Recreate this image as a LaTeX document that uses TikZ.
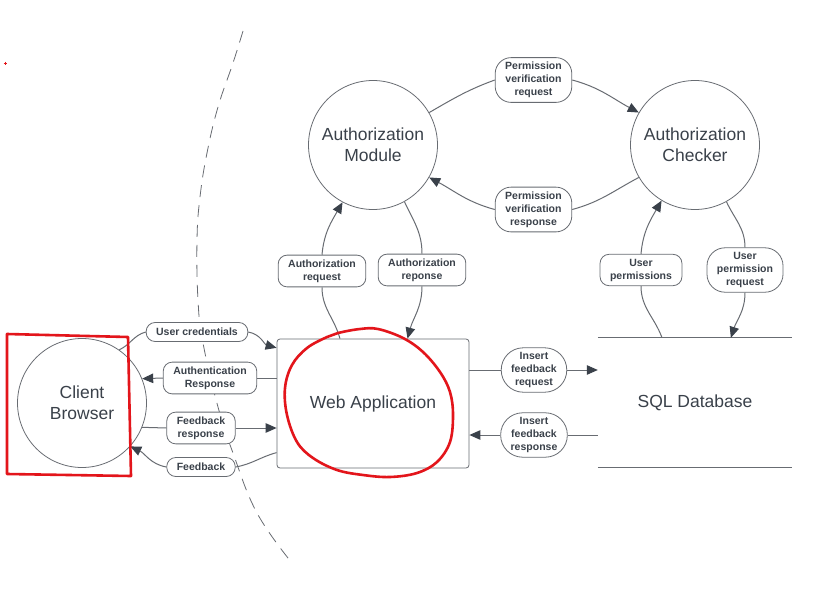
\documentclass[tikz,border=0pt]{standalone}
\usepackage{fontspec}
\setmainfont{Liberation Sans}
\usetikzlibrary{calc}
\usetikzlibrary{arrows.meta}
\usetikzlibrary{positioning}
\definecolor{lineGray}{HTML}{686C72}
\definecolor{textGray}{HTML}{3A414A}
\definecolor{penRed}{HTML}{E3151B}

\begin{document}
\begin{tikzpicture}[x=1pt, y=1pt,
  entity/.style={draw=lineGray, line width=0.8pt, circle, minimum size=129pt, inner sep=0pt, align=center, text=textGray, font=\fontsize{17.5}{21}\selectfont},
  process/.style={draw=lineGray, line width=0.8pt, rounded corners=3pt, minimum width=192pt, minimum height=129pt, text=textGray, font=\fontsize{17.5}{21}\selectfont},
  store/.style={minimum width=194pt, minimum height=129pt, text=textGray, font=\fontsize{17.5}{21}\selectfont},
  flowtag/.style={draw=lineGray, line width=0.8pt, fill=white, rounded corners=9pt, align=center, text=textGray, font=\fontsize{10.5}{13}\selectfont\bfseries, inner xsep=10pt, inner ysep=4.5pt, minimum height=19pt},
  roundtag/.style={flowtag, rounded corners=16pt},
  flow/.style={draw=lineGray, line width=1pt},
  arrowed/.style={flow, -{Triangle[length=11pt, width=9.5pt, color=textGray]}},
  redpen/.style={draw=penRed, line width=2.6pt, line join=round, line cap=round}
]
  % 画布与边距
  \fill[white] (0,0) rectangle (823,-597);
  \useasboundingbox (0,0) rectangle (823,-597);

  % 主要实体
  \node[entity] (client) at (82,-403) {Client\\Browser};% 客户端
  \node[process] (webapp) at (373,-403.5) {Web Application};% Web 应用
  \node[store] (sqldb) at (695,-402.5) {SQL Database};% 数据库
  \node[entity] (authmod) at (373,-145) {Authorization\\Module};% 授权模块
  \node[entity] (authchk) at (695,-145) {Authorization\\Checker};% 授权检查器
  % 数据库上下边线
  \draw[lineGray, line width=0.8pt] (sqldb.north west) -- (sqldb.north east);
  \draw[lineGray, line width=0.8pt] (sqldb.south west) -- (sqldb.south east);

  % 信任边界虚线
  \draw[lineGray, line width=0.8pt, dash pattern=on 12pt off 8pt] plot[smooth, tension=0.7] coordinates {(243,-31) (233,-63) (218,-107) (207,-153) (200,-197) (197,-240) (198,-300) (203,-343) (218,-407) (233,-453) (257,-513) (292,-563)};

  % 数据流标签
  \node[flowtag] (usercred) at (197,-332) {User credentials};
  \node[flowtag] (authresp) at (210,-378) {Authentication\\Response};
  \node[flowtag] (fbresp) at (201,-428) {Feedback\\response};
  \node[flowtag] (feedback) at (201,-467) {Feedback};
  \node[flowtag] (authreq) at (322,-271) {Authorization\\request};
  \node[flowtag] (authrep) at (422,-270) {Authorization\\reponse};
  \node[roundtag] (pvreq) at (533.5,-80) {Permission\\verification\\request};
  \node[roundtag] (pvresp) at (533.5,-209.5) {Permission\\verification\\response};
  \node[flowtag] (userperm) at (641,-270) {User\\permissions};
  \node[roundtag, rounded corners=18pt] (upreq) at (745,-270) {User\\permission\\request};
  \node[roundtag, rounded corners=22pt] (ifreq) at (534,-370) {Insert\\feedback\\request};
  \node[roundtag, rounded corners=22pt] (ifresp) at (534,-435) {Insert\\feedback\\response};

  % 客户端 <-> Web 应用
  \draw[flow] (client.55) to[out=25, in=195] (usercred.west);
  \draw[arrowed] (usercred.east) to[out=-10, in=165] (webapp.150);
  \draw[flow] (webapp.west |- authresp) -- (authresp.east);
  \draw[arrowed] (authresp.west) -- (client.22);
  \draw[flow] (client.-22) -- (fbresp.west);
  \draw[arrowed] (fbresp.east) -- (webapp.west |- fbresp);
  \draw[flow] (webapp.207) to[out=195, in=10] (feedback.east);
  \draw[arrowed] (feedback.west) to[out=170, in=-25] (client.-42);

  % Web 应用 <-> 授权模块
  \draw[flow] (webapp.117) to[out=105, in=-90] (authreq.south);
  \draw[arrowed] (authreq.north) to[out=85, in=240] (authmod.242);
  \draw[flow] (authmod.-61) to[out=-65, in=90] (authrep.north);
  \draw[arrowed] (authrep.south) to[out=-90, in=75] (webapp.62);

  % 授权模块 <-> 授权检查器
  \draw[flow] (authmod.30) to[out=30, in=200] (pvreq.west);
  \draw[arrowed] (pvreq.east) to[out=-15, in=152] (authchk.150);
  \draw[flow] (authchk.210) to[out=208, in=15] (pvresp.east);
  \draw[arrowed] (pvresp.west) to[out=165, in=-28] (authmod.-30);

  % 授权检查器 <-> 数据库
  \draw[flow] (sqldb.117) to[out=110, in=-90] (userperm.south);
  \draw[arrowed] (userperm.north) to[out=85, in=240] (authchk.239);
  \draw[flow] (authchk.-61) to[out=-65, in=90] (upreq.north);
  \draw[arrowed] (upreq.south) to[out=-90, in=72] (sqldb.61);

  % Web 应用 <-> 数据库
  \draw[flow] (webapp.east |- ifreq) -- (ifreq.west);
  \draw[arrowed] (ifreq.east) -- (sqldb.west |- ifreq);
  \draw[flow] (sqldb.west |- ifresp) -- (ifresp.east);
  \draw[arrowed] (ifresp.west) -- (webapp.east |- ifresp);

  % 红色手绘标注
  \draw[redpen] (7,-334) -- (128,-337) -- (131,-476) -- (7,-474) -- cycle;
  \draw[redpen] plot[smooth cycle, tension=0.6] coordinates {(338,-333) (360,-329) (378,-329) (403,-338) (423,-352) (440,-372) (450,-392) (453,-415) (450,-442) (437,-462) (417,-473) (390,-477) (363,-475) (337,-470) (313,-458) (297,-442) (287,-415) (285,-388) (292,-365) (307,-348) (327,-337)};
  \draw[penRed, line width=0.6pt] (3.5,-63) -- (6.5,-63) (5,-61.5) -- (5,-64.5);
\end{tikzpicture}
\end{document}
